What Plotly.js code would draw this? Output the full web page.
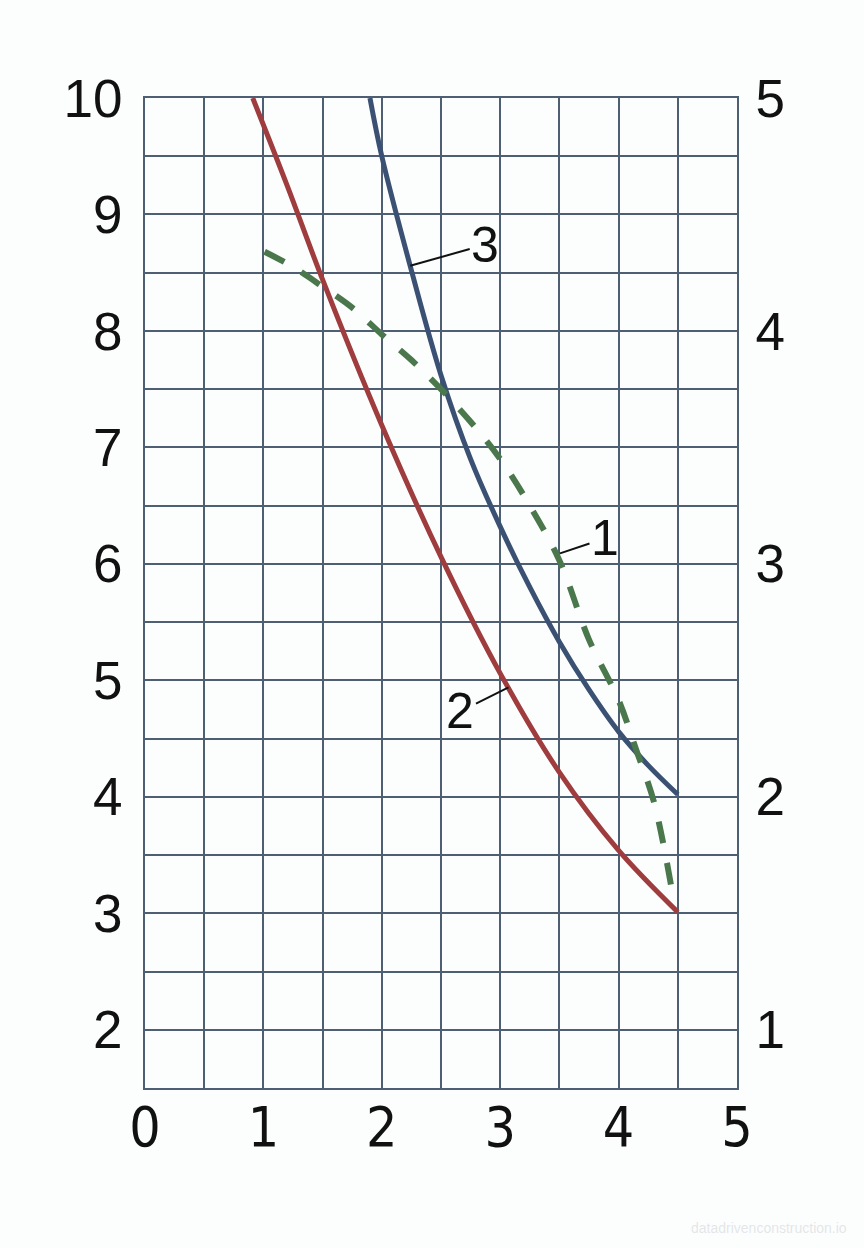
<!DOCTYPE html>
<html><head><meta charset="utf-8">
<script src="https://cdn.plot.ly/plotly-3.0.1.min.js"></script>
<style>body{margin:0;background:#fcfdfd}</style></head>
<body><div id="chart" style="width:864px;height:1248px"></div>
<script>
// Curve 1 (green dashed)
const x1 = [1.01, 1.25, 1.5, 1.75, 2.0, 2.25, 2.5, 2.75, 3.0, 3.25, 3.5, 3.75, 4.0, 4.15, 4.3, 4.45];
const y1 = [8.68, 8.55, 8.38, 8.20, 7.97, 7.75, 7.50, 7.22, 6.90, 6.50, 6.03, 5.35, 4.83, 4.40, 3.95, 3.20];
// Curve 2 (red)
const x2 = [0.91, 1.2, 1.5, 2.0, 2.5, 3.0, 3.5, 4.0, 4.5];
const y2 = [10.0, 9.25, 8.44, 7.19, 6.06, 5.06, 4.21, 3.54, 3.01];
// Curve 3 (blue)
const x3 = [1.90, 2.0, 2.25, 2.5, 2.75, 3.0, 3.25, 3.5, 3.75, 4.0, 4.25, 4.5];
const y3 = [10.0, 9.5, 8.52, 7.62, 6.90, 6.32, 5.80, 5.33, 4.92, 4.56, 4.27, 4.02];
// Axis ticks
const xTicks = [0, 1, 2, 3, 4, 5];
const yLeftTicks = [2, 3, 4, 5, 6, 7, 8, 9, 10];
const yRightTicks = [1, 2, 3, 4, 5];
// Curve labels
const labelText = ["3", "1", "2"];
const labelX = [2.24, 3.505, 3.07];
const labelY = [8.56, 6.09, 4.94];

const gridC = '#4f5f73';
const fnt = {family: 'Liberation Sans, Arial, sans-serif', size: 53, color: '#111'};
const fntX = {family: 'Liberation Sans Narrow, DejaVu Sans Condensed, Liberation Sans, Arial, sans-serif', size: 55, color: '#111'};

const traces = [
  {x: x2, y: y2, mode: 'lines', line: {color: '#9e3c3e', width: 5, shape: 'spline', smoothing: 1}, hoverinfo: 'skip'},
  {x: x3, y: y3, mode: 'lines', line: {color: '#3b5173', width: 5, shape: 'spline', smoothing: 1}, hoverinfo: 'skip'},
  {x: x1, y: y1, mode: 'lines', line: {color: '#4a774b', width: 6, dash: '22px,20px', shape: 'spline'}, hoverinfo: 'skip'},
  {x: [0], y: [1], yaxis: 'y2', mode: 'markers', marker: {opacity: 0}, hoverinfo: 'skip'}
];

const offs = [[75, -21], [45, -15], [-48, 24]];
const annotations = labelText.map((t, i) => ({
  x: labelX[i], y: labelY[i], text: t, showarrow: true, arrowhead: 0, arrowwidth: 2,
  arrowcolor: '#111', ax: offs[i][0], ay: offs[i][1], font: {family: fnt.family, size: 50, color: '#111'}, standoff: 0
}));
annotations.push({xref: 'paper', yref: 'paper', x: 1.19, y: -0.152, xanchor: 'right', showarrow: false,
  text: 'datadrivenconstruction.io', font: {family: 'Liberation Sans Narrow, Arial', size: 14, color: 'rgba(180,185,190,0.35)'}});

const layout = {
  width: 864, height: 1248,
  margin: {l: 145, r: 127, t: 98, b: 160},
  paper_bgcolor: '#fcfdfd', plot_bgcolor: '#fcfdfd',
  showlegend: false,
  xaxis: {range: [0, 5], tickvals: xTicks, ticktext: xTicks.map(String), showgrid: true, gridcolor: gridC, gridwidth: 2,
    minor: {dtick: 0.5, showgrid: true, gridcolor: gridC, gridwidth: 2},
    showline: true, linecolor: gridC, linewidth: 2, mirror: true, zeroline: false,
    ticks: '', ticklabelstandoff: -10, tickfont: fntX, fixedrange: true},
  yaxis: {range: [1.5, 10], tickvals: yLeftTicks, ticktext: yLeftTicks.map(String), showgrid: true, gridcolor: gridC, gridwidth: 2,
    minor: {dtick: 0.5, showgrid: true, gridcolor: gridC, gridwidth: 2},
    showline: true, linecolor: gridC, linewidth: 2, mirror: true, zeroline: false,
    ticks: 'outside', ticklen: 10, tickcolor: 'rgba(0,0,0,0)', tickfont: fnt, fixedrange: true},
  yaxis2: {range: [0.75, 5], overlaying: 'y', side: 'right', tickvals: yRightTicks, ticktext: yRightTicks.map(String),
    showgrid: false, zeroline: false, showline: false,
    ticks: 'outside', ticklen: 7, tickcolor: 'rgba(0,0,0,0)', tickfont: fnt, fixedrange: true},
  annotations: annotations
};
Plotly.newPlot('chart', traces, layout, {displayModeBar: false, staticPlot: true});
</script></body></html>
